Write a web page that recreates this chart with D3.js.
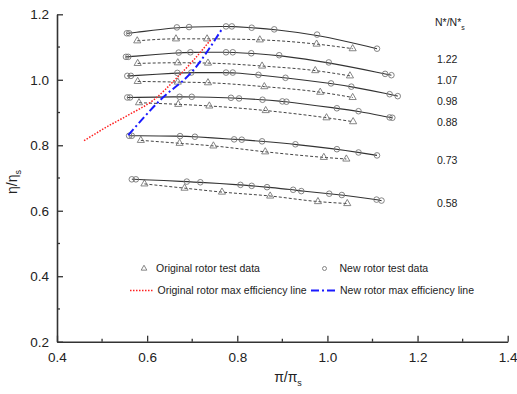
<!DOCTYPE html>
<html>
<head>
<meta charset="utf-8">
<script src="https://cdn.jsdelivr.net/npm/d3@7"></script>
<style>
  body { margin: 0; background: #fff; }
  text { font-family: Arial, "Liberation Sans", sans-serif; fill: #222; }
</style>
</head>
<body>
<svg id="chart" width="517" height="394"></svg>
<script>
// Speed lines (N*/N*s)
const speeds = ['1.22', '1.07', '0.98', '0.88', '0.73', '0.58']

// New rotor test data (circles, solid line), [pi/pi_s, eta/eta_s]
const new122 = [[0.555,1.142],[0.560,1.142],[0.666,1.160],[0.693,1.161],[0.775,1.163],[0.788,1.163],[0.832,1.159],[0.882,1.154],[0.977,1.138],[1.110,1.095]]
const new107 = [[0.553,1.070],[0.558,1.070],[0.670,1.083],[0.696,1.084],[0.775,1.084],[0.790,1.084],[0.831,1.081],[0.893,1.075],[1.003,1.053],[1.128,1.018],[1.142,1.014]]
const new098 = [[0.556,1.012],[0.564,1.012],[0.667,1.021],[0.698,1.022],[0.775,1.022],[0.790,1.022],[0.847,1.015],[0.907,1.006],[1.008,0.989],[1.053,0.979],[1.138,0.956],[1.156,0.950]]
const new088 = [[0.556,0.946],[0.562,0.946],[0.672,0.948],[0.699,0.948],[0.786,0.945],[0.804,0.943],[0.856,0.939],[0.900,0.934],[0.909,0.933],[1.021,0.913],[1.069,0.904],[1.138,0.885],[1.144,0.884]]
const new073 = [[0.560,0.829],[0.566,0.829],[0.673,0.828],[0.706,0.826],[0.793,0.818],[0.810,0.817],[0.855,0.812],[0.929,0.803],[1.021,0.788],[1.069,0.778],[1.110,0.769]]
const new058 = [[0.566,0.696],[0.575,0.696],[0.688,0.689],[0.718,0.687],[0.807,0.679],[0.832,0.676],[0.866,0.672],[0.924,0.664],[0.942,0.660],[1.004,0.652],[1.032,0.648],[1.109,0.634],[1.120,0.631]]

// Original rotor test data (triangles, dashed line)
const orig122 = [[0.578,1.119],[0.664,1.125],[0.733,1.125],[0.850,1.122],[0.976,1.109],[1.056,1.095]]
const orig107 = [[0.579,1.050],[0.668,1.052],[0.735,1.051],[0.855,1.042],[0.973,1.028],[1.050,1.012]]
const orig098 = [[0.579,0.995],[0.668,0.993],[0.735,0.991],[0.860,0.979],[0.984,0.962],[1.056,0.946]]
const orig088 = [[0.582,0.930],[0.669,0.925],[0.738,0.920],[0.863,0.906],[0.998,0.884],[1.057,0.872]]
const orig073 = [[0.586,0.815],[0.672,0.806],[0.747,0.798],[0.862,0.780],[0.992,0.763],[1.042,0.758]]
const orig058 = [[0.594,0.682],[0.683,0.669],[0.766,0.657],[0.873,0.645],[0.979,0.628],[1.044,0.622]]

// Max efficiency lines
const origMaxEff = [[0.460,0.814],[0.518,0.862],[0.562,0.895],[0.614,0.938],[0.666,1.006],[0.703,1.060],[0.742,1.124]]
const newMaxEff = [[0.558,0.831],[0.629,0.938],[0.703,1.030],[0.766,1.155]]

// Axis ticks
const xTicks = [0.4, 0.6, 0.8, 1.0, 1.2, 1.4]
const yTicks = [0.2, 0.4, 0.6, 0.8, 1.0, 1.2]
const xMinor = [0.5, 0.7, 0.9, 1.1, 1.3]
const yMinor = [0.3, 0.5, 0.7, 0.9, 1.1]

const newSeries = [new122, new107, new098, new088, new073, new058]
const origSeries = [orig122, orig107, orig098, orig088, orig073, orig058]

const svg = d3.select('#chart')

const x = d3.scaleLinear().domain([0.4, 1.4]).range([57, 507.7])
const y = d3.scaleLinear().domain([0.2, 1.2]).range([341.7, 14.3])

const axisColor = '#333'

// Y axis (ticks pointing inward)
const yAxis = svg.append('g').attr('transform', `translate(${x(0.4)},0)`)
yAxis.call(d3.axisLeft(y).tickValues(yTicks).tickSize(0).tickPadding(8).tickFormat(d3.format('.1f')))
yAxis.selectAll('.tick').append('line').attr('x2', 6).attr('stroke', axisColor).attr('stroke-width', 1.3)
yAxis.selectAll('.minor').data(yMinor).join('line')
  .attr('y1', d => y(d)).attr('y2', d => y(d)).attr('x2', 3)
  .attr('stroke', axisColor).attr('stroke-width', 1.3)

// X axis
const xAxis = svg.append('g').attr('transform', `translate(0,${y(0.2)})`)
xAxis.call(d3.axisBottom(x).tickValues(xTicks).tickSize(0).tickPadding(8).tickFormat(d3.format('.1f')))
xAxis.selectAll('.tick').append('line').attr('y2', -6).attr('stroke', axisColor).attr('stroke-width', 1.3)
xAxis.selectAll('.minor').data(xMinor).join('line')
  .attr('x1', d => x(d)).attr('x2', d => x(d)).attr('y2', -3)
  .attr('stroke', axisColor).attr('stroke-width', 1.3)

svg.selectAll('.domain').attr('stroke', axisColor).attr('stroke-width', 1.6)
svg.selectAll('.tick text').style('font-size', '13.5px').attr('fill', '#222')
xAxis.selectAll('.tick text').attr('dy', '0.9em')

// Axis titles
svg.append('text')
  .attr('x', 288).attr('y', 382).attr('text-anchor', 'middle').style('font-size', '14px')
  .html('π/π<tspan dy="4" style="font-size:9px">s</tspan>')
svg.append('text')
  .attr('transform', 'translate(17,182) rotate(-90)').attr('text-anchor', 'middle').style('font-size', '14px')
  .html('η/η<tspan dy="4" style="font-size:9px">s</tspan>')

const line = d3.line().x(d => x(d[0])).y(d => y(d[1]))

// Original rotor: dashed lines and triangles
const tri = d3.symbol().type(d3.symbolTriangle).size(22)
origSeries.forEach(s => {
  svg.append('path').datum(s)
    .attr('d', line.curve(d3.curveMonotoneX))
    .attr('fill', 'none').attr('stroke', '#444').attr('stroke-width', 1)
    .attr('stroke-dasharray', '3,2')
  svg.append('g').selectAll('path').data(s).join('path')
    .attr('d', tri)
    .attr('transform', d => `translate(${x(d[0])},${y(d[1])})`)
    .attr('fill', 'none').attr('stroke', '#777').attr('stroke-width', 0.9)
})

// New rotor: solid lines and circles
newSeries.forEach(s => {
  svg.append('path').datum(s)
    .attr('d', line.curve(d3.curveBasis))
    .attr('fill', 'none').attr('stroke', '#333').attr('stroke-width', 1.1)
  svg.append('g').selectAll('circle').data(s).join('circle')
    .attr('cx', d => x(d[0])).attr('cy', d => y(d[1])).attr('r', 2.8)
    .attr('fill', 'none').attr('stroke', '#777').attr('stroke-width', 0.9)
})

// Max efficiency lines
svg.append('path').datum(origMaxEff)
  .attr('d', line.curve(d3.curveMonotoneX))
  .attr('fill', 'none').attr('stroke', '#ff2020').attr('stroke-width', 1.5)
  .attr('stroke-dasharray', '1.5,1.5')
svg.append('path').datum(newMaxEff)
  .attr('d', line.curve(d3.curveMonotoneX))
  .attr('fill', 'none').attr('stroke', '#1a1aff').attr('stroke-width', 2)
  .attr('stroke-dasharray', '8,3,2,3')

// Speed labels on the right
svg.append('text').attr('x', 435).attr('y', 26).style('font-size', '10.5px')
  .html('N*/N*<tspan dy="4" style="font-size:7px">s</tspan>')
const labelYs = [63, 83.5, 105, 126, 164, 207]
speeds.forEach((s, i) => {
  svg.append('text').attr('x', 437).attr('y', labelYs[i])
    .style('font-size', '10.5px').text(s)
})

// Legend
const legend = svg.append('g').style('font-size', '10.5px')
legend.append('path').attr('d', d3.symbol().type(d3.symbolTriangle).size(14))
  .attr('transform', 'translate(144,268.5)').attr('fill', 'none').attr('stroke', '#777').attr('stroke-width', 0.9)
legend.append('text').attr('x', 156).attr('y', 272).text('Original rotor test data')
legend.append('circle').attr('cx', 324.5).attr('cy', 268.5).attr('r', 2)
  .attr('fill', 'none').attr('stroke', '#777').attr('stroke-width', 0.9)
legend.append('text').attr('x', 339.5).attr('y', 272).text('New rotor test data')
legend.append('line').attr('x1', 130).attr('x2', 153.5).attr('y1', 290.5).attr('y2', 290.5)
  .attr('stroke', '#ff2020').attr('stroke-width', 1.5).attr('stroke-dasharray', '1.5,1.5')
legend.append('text').attr('x', 157.5).attr('y', 294).text('Original rotor max efficiency line')
legend.append('line').attr('x1', 311).attr('x2', 335).attr('y1', 290.5).attr('y2', 290.5)
  .attr('stroke', '#1a1aff').attr('stroke-width', 2).attr('stroke-dasharray', '8,3,2,3')
legend.append('text').attr('x', 340).attr('y', 294).text('New rotor max efficiency line')
</script>
</body>
</html>
